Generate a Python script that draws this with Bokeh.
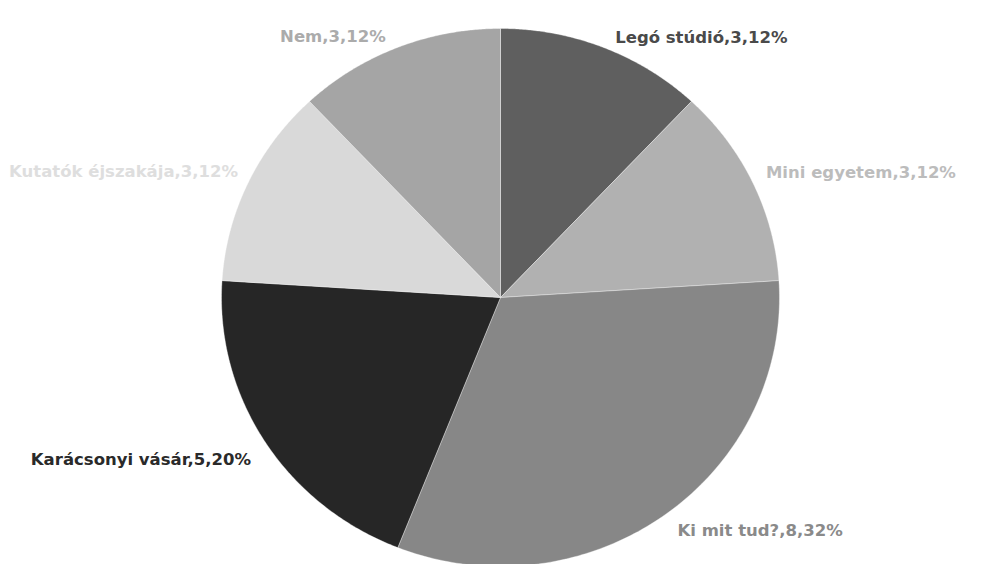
import numpy as np
from bokeh.plotting import figure
from bokeh.models import ColumnDataSource
from bokeh.core.properties import value
from bokeh.embed import file_html
from bokeh.resources import INLINE

# ---- data ----
categories = ["Legó stúdió", "Mini egyetem", "Ki mit tud?", "Karácsonyi vásár", "Kutatók éjszakája", "Nem"]
counts = [3, 3, 8, 5, 3, 3]
percents = [12, 12, 32, 20, 12, 12]

# ---- styles / layout ----
slice_colors = ["#5f5f5f", "#b1b1b1", "#878787", "#262626", "#d9d9d9", "#a5a5a5"]
text_colors = ["#4a4a4a", "#bcbcbc", "#8a8a8a", "#2a2a2a", "#dedede", "#ababab"]
label_align = ["left", "left", "left", "right", "right", "right"]
label_dx = [12, 13, 13, -14, -10, -12]
label_dy = [-10, -10, 15, 18, -11, -11]

W, H = 970, 564
cx, cy = 500, H - 297
rx, ry = 279, 269

total = float(sum(counts))
fr = np.array(counts) / total
ends = np.cumsum(fr) * 2 * np.pi
starts = ends - fr * 2 * np.pi

xs, ys = [], []
for a0, a1 in zip(starts, ends):
    t = np.linspace(a0, a1, 120)
    xs.append([cx] + list(cx + rx * np.sin(t)) + [cx])
    ys.append([cy] + list(cy + ry * np.cos(t)) + [cy])

src = ColumnDataSource(dict(xs=xs, ys=ys, color=slice_colors))

mid = (starts + ends) / 2
labels = [f"{c},{n},{p}%" for c, n, p in zip(categories, counts, percents)]
lsrc = ColumnDataSource(dict(
    x=cx + rx * np.sin(mid), y=cy + ry * np.cos(mid),
    text=labels, color=text_colors, align=label_align,
    dx=label_dx, dy=label_dy,
))

p = figure(width=W, height=H, x_range=(0, W), y_range=(0, H),
           output_backend="svg", toolbar_location=None, min_border=0)
p.axis.visible = False
p.grid.visible = False
p.outline_line_color = None
p.background_fill_color = "white"

p.patches("xs", "ys", fill_color="color", line_color="white", line_width=0.6,
          line_alpha=0.6, source=src)

p.text(x="x", y="y", text="text", text_color="color", text_align="align",
       text_baseline="middle", x_offset="dx", y_offset="dy",
       text_font=value("DejaVu Sans"), text_font_style="bold", text_font_size="16.5px",
       source=lsrc)

open("out.html", "w").write(file_html(p, INLINE))
